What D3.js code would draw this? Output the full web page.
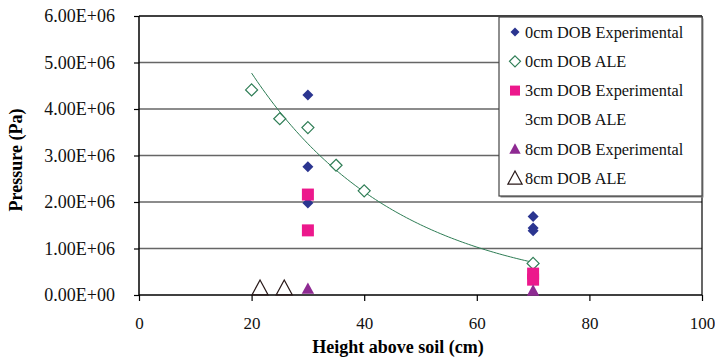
<!DOCTYPE html>
<html>
<head>
<meta charset="utf-8">
<script src="https://cdn.jsdelivr.net/npm/d3@7"></script>
<style>
  body { margin: 0; background: #fff; }
</style>
</head>
<body>
<div id="chart"></div>
<script>
// series values: [height cm, pressure Pa]
const exp0 = [[30, 4.30e6], [30, 2.76e6], [30, 1.98e6], [70, 1.69e6], [70, 1.44e6], [70, 1.38e6]];
const ale0 = [[20, 4.41e6], [25, 3.79e6], [30, 3.60e6], [35, 2.79e6], [40, 2.24e6], [70, 0.68e6]];
const exp3 = [[30, 2.16e6], [30, 1.39e6], [70, 0.46e6], [70, 0.33e6]];
const ale3 = [];
const exp8 = [[30, 0.13e6], [70, 0.09e6]];
const ale8 = [[21.5, 0.14e6], [25.8, 0.14e6]];

const xTicks = [0, 20, 40, 60, 80, 100];
const yTicks = [0, 1e6, 2e6, 3e6, 4e6, 5e6, 6e6];
const legendLabels = ['0cm DOB Experimental', '0cm DOB ALE', '3cm DOB Experimental',
  '3cm DOB ALE', '8cm DOB Experimental', '8cm DOB ALE'];

const FONT = 'Liberation Serif';

const width = 715, height = 360;
const margin = { top: 16, right: 13, bottom: 65, left: 139 };
const w = width - margin.left - margin.right;
const h = height - margin.top - margin.bottom;

const svg = d3.select('#chart').append('svg')
  .attr('width', width)
  .attr('height', height)
  .attr('font-family', FONT);

const g = svg.append('g')
  .attr('transform', 'translate(' + margin.left + ',' + margin.top + ')');

const x = d3.scaleLinear().domain([0, 100]).range([0, w]);
const y = d3.scaleLinear().domain([0, 6e6]).range([h, 0]);

// gridlines
g.append('g')
  .selectAll('line')
  .data(yTicks.slice(1))
  .enter().append('line')
  .attr('x1', 0).attr('x2', w)
  .attr('y1', d => y(d)).attr('y2', d => y(d))
  .attr('stroke', d => d === 6e6 ? '#000' : '#666')
  .attr('stroke-width', 1.5);

// right border of plot area
g.append('line')
  .attr('x1', w).attr('x2', w).attr('y1', 0).attr('y2', h)
  .attr('stroke', '#000').attr('stroke-width', 1.2);

// axes
const fmt = d => d.toExponential(2).toUpperCase().replace(/E([+-])(\d)$/, 'E$10$2');
const yAxis = g.append('g')
  .call(d3.axisLeft(y).tickValues(yTicks).tickFormat(fmt).tickSize(5).tickPadding(19));
const xAxis = g.append('g')
  .attr('transform', 'translate(0,' + h + ')')
  .call(d3.axisBottom(x).tickValues(xTicks).tickSize(6).tickPadding(16));

[xAxis, yAxis].forEach(a => {
  a.attr('font-family', FONT);
  a.selectAll('path').attr('stroke', '#000').attr('stroke-width', 1.5);
  a.selectAll('line').attr('stroke', '#000').attr('stroke-width', 1.2);
  a.selectAll('text').attr('fill', '#111');
});
yAxis.attr('font-size', 18);
xAxis.attr('font-size', 17);
yAxis.select('path').attr('d', 'M0,0V' + h);
xAxis.select('path').attr('d', 'M0,0H' + w);

// trendline: exponential fit of the 0cm ALE series (Excel style)
const mx = d3.mean(ale0, d => d[0]);
const my = d3.mean(ale0, d => Math.log(d[1]));
const b = d3.sum(ale0, d => (d[0] - mx) * (Math.log(d[1]) - my)) /
  d3.sum(ale0, d => (d[0] - mx) * (d[0] - mx));
const a = Math.exp(my - b * mx);
const xMin = d3.min(ale0, d => d[0]), xMax = d3.max(ale0, d => d[0]);
const trend = d3.range(xMin, xMax + 0.01, 0.5).map(v => [v, a * Math.exp(b * v)]);
g.append('path')
  .datum(trend)
  .attr('fill', 'none')
  .attr('stroke', '#2e7d55')
  .attr('stroke-width', 1)
  .attr('d', d3.line().x(d => x(d[0])).y(d => y(d[1])));

// markers
const diamond = s => 'M0,' + (-s) + 'L' + s + ',0L0,' + s + 'L' + (-s) + ',0Z';
const tri = s => 'M0,' + (-s) + 'L' + (s * 0.95) + ',' + (s * 0.75) + 'L' + (-s * 0.95) + ',' + (s * 0.75) + 'Z';
const series = [
  { data: exp0, path: diamond(5.5), fill: '#2b3590', stroke: 'none' },
  { data: ale0, path: diamond(6), fill: '#fff', stroke: '#2e7d55' },
  { data: exp3, path: 'M-6,-6H6V6H-6Z', fill: '#ec188c', stroke: 'none' },
  { data: ale3, path: '', fill: 'none', stroke: 'none' },
  { data: exp8, path: tri(6.5), fill: '#8e2a92', stroke: 'none' },
  { data: ale8, path: tri(8.5), fill: 'none', stroke: '#2a1a1a' }
];

series.forEach(s => {
  g.append('g').selectAll('path')
    .data(s.data)
    .enter().append('path')
    .attr('transform', d => 'translate(' + x(d[0]) + ',' + y(d[1]) + ')')
    .attr('d', s.path)
    .attr('fill', s.fill)
    .attr('stroke', s.stroke)
    .attr('stroke-width', 1.2);
});

// legend
const lg = svg.append('g').attr('transform', 'translate(499,17)');
lg.append('rect')
  .attr('x', 1.5).attr('y', 1.5).attr('width', 203).attr('height', 179)
  .attr('fill', '#888');
lg.append('rect')
  .attr('width', 203).attr('height', 179)
  .attr('fill', '#fff').attr('stroke', '#444').attr('stroke-width', 1.2);
const legendSymbols = [
  { path: diamond(4.5), fill: '#2b3590', stroke: 'none' },
  { path: diamond(5.5), fill: '#fff', stroke: '#2e7d55' },
  { path: 'M-5,-5H5V5H-5Z', fill: '#ec188c', stroke: 'none' },
  { path: '', fill: 'none', stroke: 'none' },
  { path: tri(6), fill: '#8e2a92', stroke: 'none' },
  { path: tri(7.5), fill: 'none', stroke: '#2a1a1a' }
];
legendLabels.forEach((lab, i) => {
  const cy = 15 + i * 29.3;
  lg.append('path')
    .attr('transform', 'translate(16,' + cy + ')')
    .attr('d', legendSymbols[i].path)
    .attr('fill', legendSymbols[i].fill)
    .attr('stroke', legendSymbols[i].stroke)
    .attr('stroke-width', 1.2);
  lg.append('text')
    .attr('x', 26).attr('y', cy + 5.5)
    .attr('font-size', 16.3)
    .attr('fill', '#111')
    .text(lab);
});

// axis titles
svg.append('text')
  .attr('transform', 'translate(22,160) rotate(-90)')
  .attr('text-anchor', 'middle')
  .attr('font-size', 18)
  .attr('font-weight', 'bold')
  .text('Pressure (Pa)');

svg.append('text')
  .attr('x', 398).attr('y', 353)
  .attr('text-anchor', 'middle')
  .attr('font-size', 18)
  .attr('font-weight', 'bold')
  .text('Height above soil (cm)');
</script>
</body>
</html>
